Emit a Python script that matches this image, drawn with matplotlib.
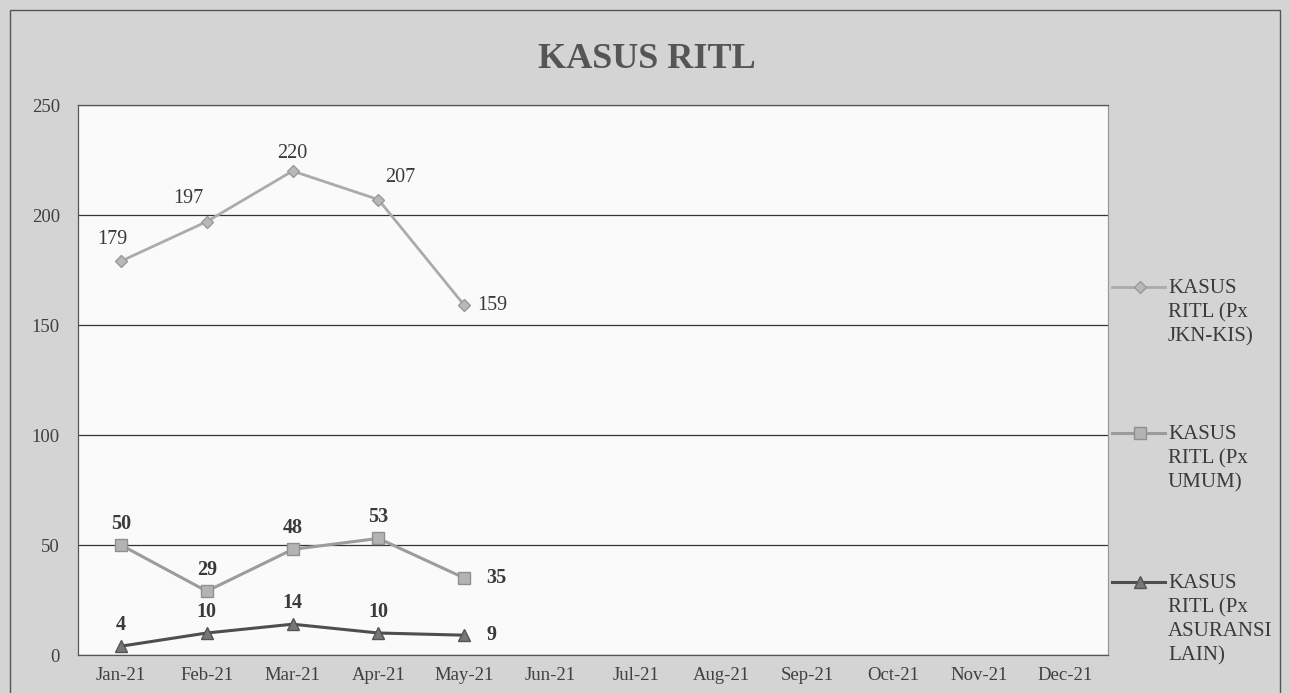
import matplotlib
matplotlib.use("Agg")
import matplotlib.pyplot as plt
from matplotlib.lines import Line2D
from matplotlib.patches import Rectangle

months = ["Jan-21", "Feb-21", "Mar-21", "Apr-21", "May-21", "Jun-21",
          "Jul-21", "Aug-21", "Sep-21", "Oct-21", "Nov-21", "Dec-21"]
jkn = [179, 197, 220, 207, 159]
umum = [50, 29, 48, 53, 35]
lain = [4, 10, 14, 10, 9]
series_names = ["KASUS\nRITL (Px\nJKN-KIS)", "KASUS\nRITL (Px\nUMUM)", "KASUS\nRITL (Px\nASURANSI\nLAIN)"]
yticks = [0, 50, 100, 150, 200, 250]

plt.rcParams['font.family'] = ['Liberation Serif', 'DejaVu Serif']

fig = plt.figure(figsize=(12.89, 6.93), dpi=100)
fig.patch.set_facecolor('#d4d4d4')
ax = fig.add_axes([78/1289, 1-655/693, (1108-78)/1289, (655-105)/693])
ax.set_facecolor('#fafafa')

x = list(range(len(months)))
styles = [
    dict(color='#ababab', marker='D', ms=6.5, mfc='#b8b8b8', mec='#9a9a9a', lw=2.0),
    dict(color='#9c9c9c', marker='s', ms=9, mfc='#b3b3b3', mec='#8f8f8f', lw=2.2),
    dict(color='#4e4e4e', marker='^', ms=9, mfc='#777777', mec='#555555', lw=2.2),
]
data = [jkn, umum, lain]
for vals, st in zip(data, styles):
    ax.plot(x[:len(vals)], vals, zorder=3, **st)

lab_fs = 14.5
# labels
jkn_off = [(-6, 9, 'center'), (-13, 10, 'center'), (0, 6, 'center'), (16, 9, 'center'), (9, 0, 'left')]
for i, v in enumerate(jkn):
    dx, dy, ha = jkn_off[i]
    ax.annotate(str(v), (i, v), xytext=(dx, dy), textcoords='offset points',
                ha=ha, va='bottom' if dy else 'center', fontsize=lab_fs, color='#3a3a3a')
for vals in (umum, lain):
    for i, v in enumerate(vals):
        if i == len(vals) - 1:
            ax.annotate(str(v), (i, v), xytext=(16, 0), textcoords='offset points',
                        ha='left', va='center', fontsize=lab_fs, fontweight='bold', color='#3a3a3a')
        else:
            ax.annotate(str(v), (i, v), xytext=(0, 8), textcoords='offset points',
                        ha='center', va='bottom', fontsize=lab_fs, fontweight='bold', color='#3a3a3a')

ax.set_xlim(-0.5, 11.5)
ax.set_ylim(0, 250)
ax.set_xticks(x)
ax.set_xticklabels(months, fontsize=13.5, color='#404040')
ax.set_yticks(yticks)
ax.set_yticklabels([str(t) for t in yticks], fontsize=13.5, color='#404040')
ax.tick_params(length=0, pad=9)
ax.tick_params(axis='y', pad=13)
ax.grid(axis='y', color='#333333', lw=0.9)
ax.set_axisbelow(True)
for s in ax.spines.values():
    s.set_color('#555555')
    s.set_linewidth(0.9)
ax.spines['right'].set_color('#999999')

fig.text(647/1289, 1-60/693, "KASUS RITL", ha='center', va='center',
         fontsize=26, fontweight='bold', color='#555555')

# outer border
fig.add_artist(Rectangle((10/1289, -0.01), 1270/1289, 1.01-10/693, transform=fig.transFigure,
                         fill=False, ec='#555555', lw=1.0))

# legend (manual)
leg_y = [287, 433, 582]
for yy, st, name in zip(leg_y, styles, series_names):
    fy = 1 - yy/693
    fig.add_artist(Line2D([1112/1289, 1165/1289], [fy, fy], transform=fig.transFigure,
                          color=st['color'], lw=st['lw']))
    fig.add_artist(Line2D([1140/1289], [fy], transform=fig.transFigure, marker=st['marker'],
                          ms=st['ms'], mfc=st['mfc'], mec=st['mec'], ls='none'))
    fig.text(1168/1289, fy + 8/693, name, ha='left', va='top', fontsize=15,
             color='#3a3a3a', linespacing=1.35)

fig.savefig("out.png", dpi=100, facecolor=fig.get_facecolor())
